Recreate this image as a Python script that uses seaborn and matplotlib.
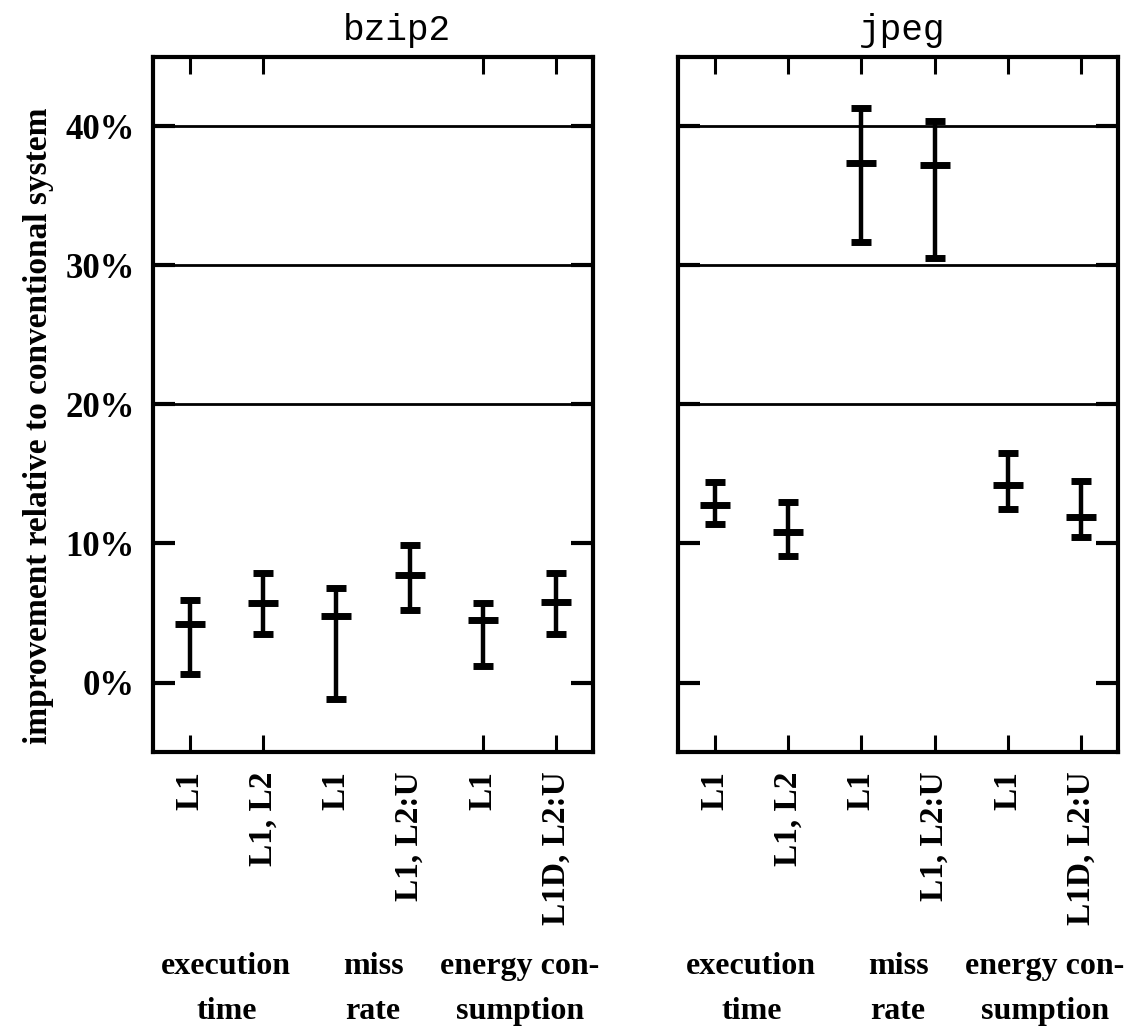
import pandas as pd
import matplotlib
matplotlib.use("Agg")
import matplotlib.pyplot as plt
import seaborn as sns

# values (percent improvement)
benchmarks = ["bzip2", "jpeg"]
tick_labels = ["L1", "L1, L2", "L1", "L1, L2:U", "L1", "L1D, L2:U"]
group_labels = ["execution\ntime", "miss\nrate", "energy con-\nsumption"]

bzip2_mean = [4.2, 5.7, 4.8, 7.7, 4.5, 5.8]
bzip2_low = [0.6, 3.5, -1.2, 5.2, 1.2, 3.5]
bzip2_high = [5.9, 7.9, 6.8, 9.9, 5.7, 7.9]

jpeg_mean = [12.8, 10.8, 37.4, 37.2, 14.2, 11.9]
jpeg_low = [11.4, 9.1, 31.7, 30.5, 12.5, 10.5]
jpeg_high = [14.4, 13.0, 41.3, 40.4, 16.5, 14.5]

rows = []
for bench, mean, low, high in [("bzip2", bzip2_mean, bzip2_low, bzip2_high),
                               ("jpeg", jpeg_mean, jpeg_low, jpeg_high)]:
    for i, lab in enumerate(tick_labels):
        rows.append({"bench": bench, "pos": i, "label": lab,
                     "mean": mean[i], "low": low[i], "high": high[i]})
df = pd.DataFrame(rows)

sns.set_theme(style="white")
plt.rcParams["font.family"] = ["Liberation Serif", "DejaVu Serif"]
plt.rcParams["text.color"] = "black"
plt.rcParams["axes.labelcolor"] = "black"
plt.rcParams["xtick.color"] = "black"
plt.rcParams["ytick.color"] = "black"

fig = plt.figure(figsize=(11.31, 10.36), dpi=100)
positions = [[0.1353, 0.2741, 0.389, 0.671], [0.5995, 0.2741, 0.389, 0.671]]
title_x = [0.555, 0.51]

for k, bench in enumerate(benchmarks):
    ax = fig.add_axes(positions[k])
    d = df[df["bench"] == bench]

    for y in [20, 30, 40]:
        ax.axhline(y, color="black", lw=2.0, zorder=1)

    ax.errorbar(d["pos"], d["mean"],
                yerr=[d["mean"] - d["low"], d["high"] - d["mean"]],
                fmt="none", ecolor="black", elinewidth=3.2,
                capsize=7.5, capthick=5, zorder=3)
    sns.scatterplot(data=d, x="pos", y="mean", marker="_", s=470,
                    color="black", linewidth=5, ax=ax, zorder=4, legend=False)

    ax.set_xlim(-0.5, 5.5)
    ax.set_ylim(-5, 45)
    ax.set_xticks(range(len(tick_labels)))
    ax.set_xticklabels(tick_labels, rotation=90, fontsize=24,
                       fontweight="bold", va="top")
    ax.set_yticks([0, 10, 20, 30, 40])
    if k == 0:
        ax.set_yticklabels([f"{v}%" for v in [0, 10, 20, 30, 40]],
                           fontsize=25, fontweight="bold")
        ax.set_ylabel("improvement relative to conventional system",
                      fontsize=24, fontweight="bold")
        ax.yaxis.set_label_coords(-0.224, 0.47)
    else:
        ax.set_yticklabels([])
        ax.set_ylabel("")
    ax.set_xlabel("")

    ax.tick_params(axis="x", direction="in", length=12, width=2.2,
                   top=True, bottom=True, pad=14)
    ax.tick_params(axis="y", direction="in", length=16, width=3,
                   left=True, right=True, pad=13)
    if k == 0:
        # the middle ticks are barely visible in the left panel
        for i in (2, 3):
            t = ax.xaxis.get_major_ticks()[i]
            t.tick1line.set_markersize(1)
            t.tick2line.set_markersize(0)

    for s in ax.spines.values():
        s.set_color("black")
        s.set_linewidth(3)

    ax.text(title_x[k], 1.038, bench, transform=ax.transAxes, ha="center",
            va="center", fontsize=26, family="Liberation Mono")

    for g, txt in enumerate(group_labels):
        xc = 2 * g + 0.5
        ax.annotate(txt, xy=(xc, 0), xycoords=("data", "axes fraction"),
                    xytext=(0, -144), textcoords="offset points",
                    ha="center", va="top", fontsize=23, fontweight="bold",
                    linespacing=1.72, annotation_clip=False)

fig.savefig("out.png", dpi=100, facecolor="white")
